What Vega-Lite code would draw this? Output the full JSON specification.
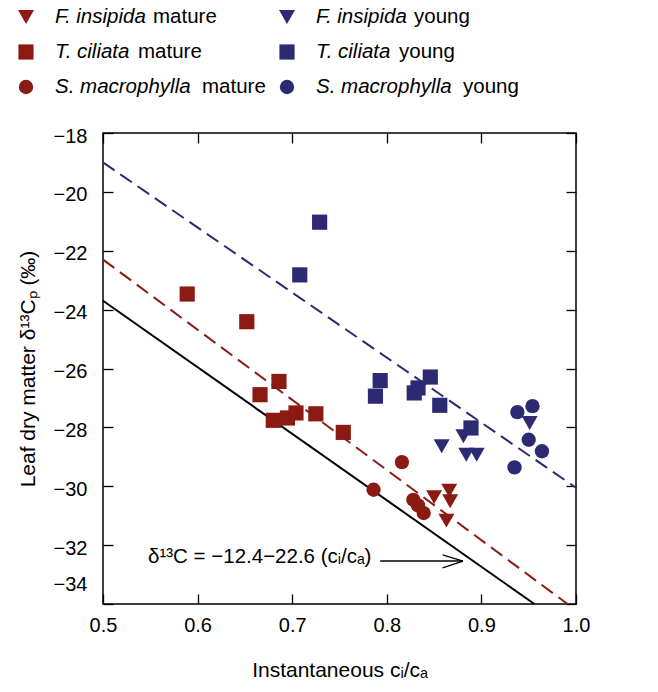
{
  "$schema": "https://vega.github.io/schema/vega-lite/v6.json",
  "padding": {"left": 16, "top": 0, "right": 0, "bottom": 0},
  "spacing": 25,
  "resolve": {"scale": {"x": "independent", "y": "independent"}},
  "config": {
    "font": "Liberation Sans",
    "view": {"stroke": "black", "strokeWidth": 1.5},
    "axis": {
      "grid": false,
      "domain": false,
      "labelFlush": false,
      "tickColor": "black",
      "tickWidth": 1.3,
      "labelColor": "black",
      "titleColor": "black",
      "labelFontSize": 20,
      "titleFontSize": 21,
      "titleFontWeight": "normal"
    }
  },
  "vconcat": [
    {
      "width": 473,
      "height": 100,
      "view": {"stroke": null},
      "data": {"values": [
        {"species": "F. insipida", "stage": "mature"},
        {"species": "T. ciliata", "stage": "mature"},
        {"species": "S. macrophylla", "stage": "mature"},
        {"species": "F. insipida", "stage": "young"},
        {"species": "T. ciliata", "stage": "young"},
        {"species": "S. macrophylla", "stage": "young"}
      ]},
      "encoding": {
        "x": {"field": "stage", "type": "nominal", "scale": {"type": "point", "domain": ["mature", "young"], "range": [-77, 184], "padding": 0}, "axis": null},
        "y": {"field": "species", "type": "nominal", "scale": {"type": "point", "domain": ["F. insipida", "T. ciliata", "S. macrophylla"], "range": [17, 87], "padding": 0}, "axis": null}
      },
      "layer": [
        {
          "mark": {"type": "point", "filled": true, "opacity": 1, "strokeWidth": 0},
          "encoding": {
            "shape": {"field": "species", "type": "nominal", "scale": {"domain": ["F. insipida", "T. ciliata", "S. macrophylla"], "range": ["triangle-down", "square", "circle"]}, "legend": null},
            "color": {"field": "stage", "type": "nominal", "scale": {"domain": ["mature", "young"], "range": ["#8B1A12", "#2B2A73"]}, "legend": null},
            "size": {"field": "species", "type": "nominal", "scale": {"domain": ["F. insipida", "T. ciliata", "S. macrophylla"], "range": [256, 205, 265]}, "legend": null}
          }
        },
        {
          "mark": {"type": "text", "align": "left", "baseline": "middle", "dx": 29, "fontSize": 20.5, "fontStyle": "italic", "color": "black"},
          "encoding": {"text": {"field": "species", "type": "nominal"}}
        },
        {
          "transform": [{"filter": "datum.species === 'F. insipida'"}],
          "mark": {"type": "text", "align": "left", "baseline": "middle", "dx": 127, "fontSize": 20.5, "color": "black"},
          "encoding": {"text": {"field": "stage", "type": "nominal"}}
        },
        {
          "transform": [{"filter": "datum.species === 'T. ciliata'"}],
          "mark": {"type": "text", "align": "left", "baseline": "middle", "dx": 112, "fontSize": 20.5, "color": "black"},
          "encoding": {"text": {"field": "stage", "type": "nominal"}}
        },
        {
          "transform": [{"filter": "datum.species === 'S. macrophylla'"}],
          "mark": {"type": "text", "align": "left", "baseline": "middle", "dx": 176, "fontSize": 20.5, "color": "black"},
          "encoding": {"text": {"field": "stage", "type": "nominal"}}
        }
      ]
    },
    {
      "width": 473,
      "height": 471,
      "resolve": {"axis": {"x": "independent", "y": "independent"}},
      "layer": [
        {
          "data": {"values": [
            {"x": 0.5, "y": -23.7},
            {"x": 0.956, "y": -34}
          ]},
          "mark": {"type": "line", "strokeWidth": 2, "color": "black"},
          "encoding": {
            "x": {"field": "x", "type": "quantitative", "scale": {"domain": [0.5, 1.0], "nice": false, "zero": false, "padding": 0},
              "axis": {"orient": "bottom", "values": [0.5, 0.6, 0.7, 0.8, 0.9, 1.0], "format": ".1f", "title": "Instantaneous cᵢ/cₐ", "tickSize": -10, "labelPadding": 21, "minExtent": 34, "maxExtent": 34, "titlePadding": 21}},
            "y": {"field": "y", "type": "quantitative", "scale": {"domain": [-34, -18], "nice": false, "zero": false, "padding": 0},
              "axis": {"orient": "left", "values": [-18, -20, -22, -24, -26, -28, -30, -32, -34], "title": "Leaf dry matter δ¹³Cₚ (‰)", "tickSize": -10, "labelPadding": 26, "minExtent": 49, "maxExtent": 49, "titlePadding": 16,
                "labelOffset": {"condition": {"test": "datum.value === -34", "value": -20}, "value": 3}}}
          }
        },
        {
          "data": {"values": [
            {"stage": "mature", "x": 0.5, "y": -22.3},
            {"stage": "mature", "x": 0.991, "y": -34},
            {"stage": "young", "x": 0.5, "y": -19.0},
            {"stage": "young", "x": 1.0, "y": -30.05}
          ]},
          "mark": {"type": "line", "strokeWidth": 2, "strokeDash": [14, 7]},
          "encoding": {
            "x": {"field": "x", "type": "quantitative", "scale": {"domain": [0.5, 1.0], "nice": false, "zero": false, "padding": 0}, "axis": null},
            "y": {"field": "y", "type": "quantitative", "scale": {"domain": [-34, -18], "nice": false, "zero": false, "padding": 0}, "axis": null},
            "detail": {"field": "stage", "type": "nominal"},
            "color": {"field": "stage", "type": "nominal", "scale": {"domain": ["mature", "young"], "range": ["#8B1A12", "#2B2A73"]}, "legend": null}
          }
        },
        {
          "data": {"values": [
            {"species": "F. insipida", "stage": "mature", "x": 0.850, "y": -30.37},
            {"species": "F. insipida", "stage": "mature", "x": 0.866, "y": -30.15},
            {"species": "F. insipida", "stage": "mature", "x": 0.867, "y": -30.51},
            {"species": "F. insipida", "stage": "mature", "x": 0.863, "y": -31.17},
            {"species": "T. ciliata", "stage": "mature", "x": 0.589, "y": -23.47},
            {"species": "T. ciliata", "stage": "mature", "x": 0.652, "y": -24.41},
            {"species": "T. ciliata", "stage": "mature", "x": 0.666, "y": -26.89},
            {"species": "T. ciliata", "stage": "mature", "x": 0.686, "y": -26.44},
            {"species": "T. ciliata", "stage": "mature", "x": 0.680, "y": -27.76},
            {"species": "T. ciliata", "stage": "mature", "x": 0.695, "y": -27.68},
            {"species": "T. ciliata", "stage": "mature", "x": 0.704, "y": -27.51},
            {"species": "T. ciliata", "stage": "mature", "x": 0.725, "y": -27.54},
            {"species": "T. ciliata", "stage": "mature", "x": 0.754, "y": -28.17},
            {"species": "S. macrophylla", "stage": "mature", "x": 0.786, "y": -30.12},
            {"species": "S. macrophylla", "stage": "mature", "x": 0.816, "y": -29.18},
            {"species": "S. macrophylla", "stage": "mature", "x": 0.828, "y": -30.46},
            {"species": "S. macrophylla", "stage": "mature", "x": 0.833, "y": -30.65},
            {"species": "S. macrophylla", "stage": "mature", "x": 0.839, "y": -30.91},
            {"species": "F. insipida", "stage": "young", "x": 0.858, "y": -28.64},
            {"species": "F. insipida", "stage": "young", "x": 0.881, "y": -28.30},
            {"species": "F. insipida", "stage": "young", "x": 0.884, "y": -28.93},
            {"species": "F. insipida", "stage": "young", "x": 0.895, "y": -28.93},
            {"species": "F. insipida", "stage": "young", "x": 0.951, "y": -27.85},
            {"species": "T. ciliata", "stage": "young", "x": 0.708, "y": -22.82},
            {"species": "T. ciliata", "stage": "young", "x": 0.729, "y": -21.03},
            {"species": "T. ciliata", "stage": "young", "x": 0.788, "y": -26.94},
            {"species": "T. ciliata", "stage": "young", "x": 0.793, "y": -26.41},
            {"species": "T. ciliata", "stage": "young", "x": 0.829, "y": -26.83},
            {"species": "T. ciliata", "stage": "young", "x": 0.833, "y": -26.66},
            {"species": "T. ciliata", "stage": "young", "x": 0.846, "y": -26.29},
            {"species": "T. ciliata", "stage": "young", "x": 0.856, "y": -27.25},
            {"species": "T. ciliata", "stage": "young", "x": 0.889, "y": -28.02},
            {"species": "S. macrophylla", "stage": "young", "x": 0.938, "y": -27.48},
            {"species": "S. macrophylla", "stage": "young", "x": 0.954, "y": -27.28},
            {"species": "S. macrophylla", "stage": "young", "x": 0.950, "y": -28.42},
            {"species": "S. macrophylla", "stage": "young", "x": 0.964, "y": -28.81},
            {"species": "S. macrophylla", "stage": "young", "x": 0.935, "y": -29.36}
          ]},
          "mark": {"type": "point", "filled": true, "opacity": 1, "strokeWidth": 0},
          "encoding": {
            "x": {"field": "x", "type": "quantitative", "scale": {"domain": [0.5, 1.0], "nice": false, "zero": false, "padding": 0},
              "axis": {"orient": "top", "values": [0.5, 0.6, 0.7, 0.8, 0.9, 1.0], "labels": false, "title": null, "tickSize": -10, "minExtent": 0, "maxExtent": 0}},
            "y": {"field": "y", "type": "quantitative", "scale": {"domain": [-34, -18], "nice": false, "zero": false, "padding": 0},
              "axis": {"orient": "right", "values": [-18, -20, -22, -24, -26, -28, -30, -32, -34], "labels": false, "title": null, "tickSize": -10, "minExtent": 0, "maxExtent": 0}},
            "shape": {"field": "species", "type": "nominal", "scale": {"domain": ["F. insipida", "T. ciliata", "S. macrophylla"], "range": ["triangle-down", "square", "circle"]}, "legend": null},
            "color": {"field": "stage", "type": "nominal", "scale": {"domain": ["mature", "young"], "range": ["#8B1A12", "#2B2A73"]}, "legend": null},
            "size": {"field": "species", "type": "nominal", "scale": {"domain": ["F. insipida", "T. ciliata", "S. macrophylla"], "range": [256, 205, 265]}, "legend": null}
          }
        },
        {
          "data": {"values": [
            {"x": 0.5476, "y": -32.6, "label": "δ¹³C = −12.4−22.6 (cᵢ/cₐ)"}
          ]},
          "mark": {"type": "text", "align": "left", "baseline": "alphabetic", "fontSize": 20.5, "color": "black"},
          "encoding": {
            "x": {"field": "x", "type": "quantitative", "scale": {"domain": [0.5, 1.0], "nice": false, "zero": false, "padding": 0}, "axis": null},
            "y": {"field": "y", "type": "quantitative", "scale": {"domain": [-34, -18], "nice": false, "zero": false, "padding": 0}, "axis": null},
            "text": {"field": "label", "type": "nominal"}
          }
        },
        {
          "data": {"values": [
            {"x": 0.793, "y": -32.54, "x2": 0.8805, "y2": -32.54},
            {"x": 0.859, "y": -32.33, "x2": 0.8805, "y2": -32.54},
            {"x": 0.859, "y": -32.77, "x2": 0.8805, "y2": -32.54}
          ]},
          "mark": {"type": "rule", "strokeWidth": 1.3, "color": "black"},
          "encoding": {
            "x": {"field": "x", "type": "quantitative", "scale": {"domain": [0.5, 1.0], "nice": false, "zero": false, "padding": 0}, "axis": null},
            "y": {"field": "y", "type": "quantitative", "scale": {"domain": [-34, -18], "nice": false, "zero": false, "padding": 0}, "axis": null},
            "x2": {"field": "x2"},
            "y2": {"field": "y2"}
          }
        }
      ]
    }
  ]
}
